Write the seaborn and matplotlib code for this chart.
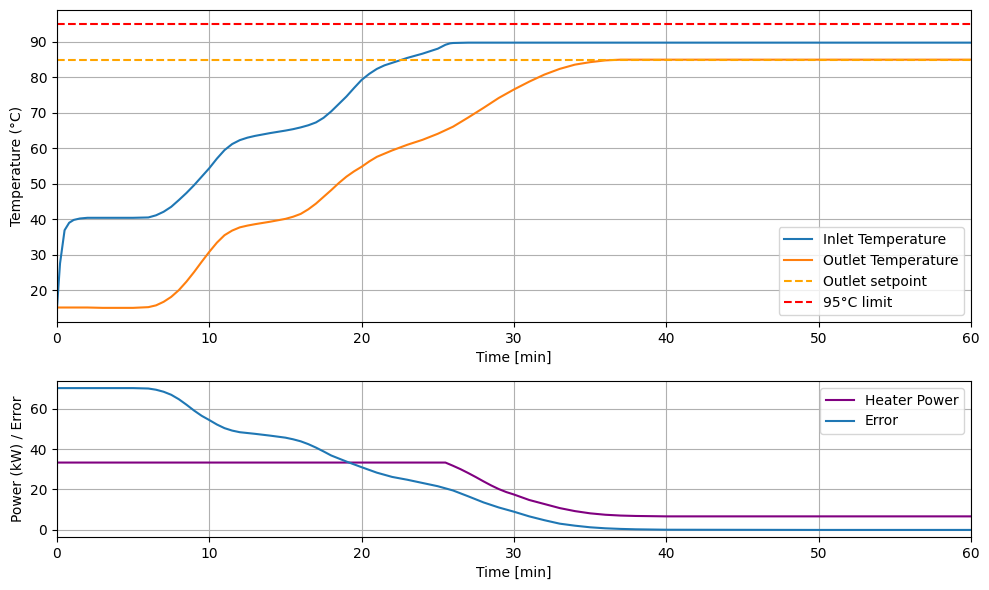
import numpy as np
import pandas as pd
import seaborn as sns
import matplotlib
matplotlib.use("Agg")
import matplotlib.pyplot as plt

# inlet temperature (degC) vs time (min)
t_inlet = [0, 0.2, 0.5, 0.8, 1.1, 1.5, 2, 3, 4, 5, 6, 6.5, 7, 7.5, 8, 8.5, 9, 9.5, 10, 10.5, 11,
           11.5, 12, 12.5, 13, 14, 15, 15.5, 16, 16.5, 17, 17.5, 18, 18.5, 19, 19.5, 20, 20.5, 21,
           21.5, 22, 23, 24, 25, 25.5, 25.8, 26, 27, 30, 40, 50, 60]
inlet = [15, 27.5, 36.9, 39, 39.8, 40.2, 40.4, 40.4, 40.4, 40.4, 40.5, 41.1, 42.1, 43.5, 45.4,
         47.4, 49.6, 52, 54.4, 57.1, 59.5, 61.2, 62.3, 63, 63.5, 64.3, 65, 65.4, 65.9, 66.5, 67.3,
         68.6, 70.4, 72.5, 74.6, 77, 79.3, 81, 82.4, 83.4, 84.1, 85.5, 86.7, 88.1, 89.2, 89.6,
         89.7, 89.8, 89.8, 89.8, 89.8, 89.8]

# outlet temperature
t_outlet = [0, 1, 2, 3, 4, 5, 6, 6.5, 7, 7.5, 8, 8.5, 9, 9.5, 10, 10.5, 11, 11.5, 12, 12.5, 13, 14,
            15, 15.5, 16, 16.5, 17, 17.5, 18, 18.5, 19, 19.5, 20, 20.5, 21, 22, 23, 24, 25, 26, 27,
            28, 29, 30, 31, 32, 33, 34, 35, 36, 37, 38, 40, 50, 60]
outlet = [15.1, 15.1, 15.1, 15, 15, 15, 15.2, 15.7, 16.7, 18.1, 20, 22.4, 25.1, 28, 30.8, 33.4,
          35.5, 36.8, 37.7, 38.2, 38.6, 39.3, 40.1, 40.7, 41.5, 42.8, 44.4, 46.3, 48.2, 50.2, 52,
          53.5, 54.8, 56.3, 57.6, 59.4, 61, 62.4, 64.1, 66.1, 68.7, 71.4, 74.2, 76.6, 78.8, 80.8,
          82.4, 83.6, 84.3, 84.8, 85, 85, 85, 85, 85]

# heater power (kW)
t_power = [0, 10, 20, 25.5, 26, 26.5, 27, 27.5, 28, 28.5, 29, 29.5, 30, 31, 32, 33, 34, 35, 36,
           37, 38, 40, 50, 60]
power = [33.3, 33.3, 33.3, 33.3, 31.7, 30, 28.1, 26.1, 24, 22, 20.2, 18.7, 17.5, 14.8, 12.8,
         10.8, 9.3, 8.2, 7.5, 7.1, 6.9, 6.7, 6.7, 6.7]

# error
t_error = [0, 5, 6, 6.5, 7, 7.5, 8, 8.5, 9, 9.5, 10, 10.5, 11, 11.5, 12, 13, 14, 15, 15.5, 16,
           16.5, 17, 17.5, 18, 19, 20, 21, 22, 23, 24, 25, 26, 27, 28, 29, 30, 31, 32, 33, 34, 35,
           36, 37, 38, 40, 50, 60]
error = [70.1, 70.1, 69.9, 69.3, 68.3, 66.8, 64.6, 61.9, 59, 56.4, 54.3, 52.1, 50.3, 49.1, 48.3,
         47.5, 46.6, 45.6, 44.8, 43.8, 42.4, 40.7, 38.8, 36.8, 33.8, 31, 28.3, 26.2, 24.8, 23.2,
         21.6, 19.5, 16.6, 13.6, 11.1, 9, 6.7, 4.8, 3.1, 2.1, 1.3, 0.8, 0.5, 0.3, 0.1, 0, 0]

setpoint = 85
limit = 95

fig, (ax1, ax2) = plt.subplots(2, 1, figsize=(9.89, 5.9), dpi=100,
                               gridspec_kw={'height_ratios': [2, 1]})

sns.lineplot(x=t_inlet, y=inlet, ax=ax1, label='Inlet Temperature', color='C0')
sns.lineplot(x=t_outlet, y=outlet, ax=ax1, label='Outlet Temperature', color='C1')
ax1.axhline(setpoint, color='orange', linestyle='--', label='Outlet setpoint')
ax1.axhline(limit, color='red', linestyle='--', label='95°C limit')
ax1.set_xlim(0, 60)
ax1.set_xlabel('Time [min]')
ax1.set_ylabel('Temperature (°C)')
ax1.grid(True)
ax1.legend(loc='lower right')

sns.lineplot(x=t_power, y=power, ax=ax2, label='Heater Power', color='purple')
sns.lineplot(x=t_error, y=error, ax=ax2, label='Error', color='C0')
ax2.set_xlim(0, 60)
ax2.set_xlabel('Time [min]')
ax2.set_ylabel('Power (kW) / Error')
ax2.grid(True)
ax2.legend(loc='upper right')

plt.subplots_adjust(left=0.0576, right=0.9818, top=0.983, bottom=0.0898, hspace=0.252)
plt.savefig('out.png')
